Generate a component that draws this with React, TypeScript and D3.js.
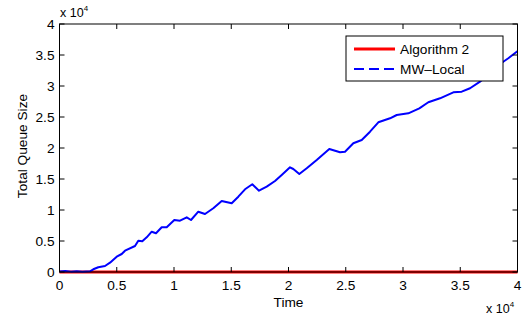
import React from "react";
import * as d3 from "d3";

const xTicks = [0, 0.5, 1, 1.5, 2, 2.5, 3, 3.5, 4];
const yTicks = [0, 0.5, 1, 1.5, 2, 2.5, 3, 3.5, 4];
const seriesNames = ["Algorithm 2", "MW\u2013Local"];

const algTime = [0, 40000];
const algQueue = [0, 0];

const mwTime = [0, 500, 1000, 1500, 2000, 2664, 2952, 3389, 3974, 4411, 4996, 5433, 5721, 6594, 6882, 7232, 7616, 8053, 8428, 8926, 9363, 10027, 10524, 11110, 11485, 12123, 12708, 13433, 14167, 14455, 15040, 15617, 16202, 16839, 17424, 18097, 18822, 19407, 20132, 20420, 20944, 21591, 22464, 23565, 24499, 24936, 25661, 26395, 27120, 27845, 28867, 29452, 30465, 31426, 32212, 33234, 34396, 35129, 35854, 36727, 37601, 38474, 39198, 39932, 40000];
const mwQueue = [100, 150, 60, 120, 50, 113, 435, 758, 968, 1500, 2468, 2903, 3436, 4194, 5049, 4952, 5597, 6500, 6242, 7210, 7210, 8388, 8275, 8823, 8388, 9726, 9355, 10275, 11452, 11340, 11081, 12146, 13339, 14146, 13114, 13759, 14678, 15646, 16888, 16614, 15807, 16727, 18066, 19840, 19308, 19404, 20759, 21292, 22631, 24147, 24792, 25324, 25598, 26404, 27373, 28018, 28986, 29083, 29631, 30696, 32050, 33550, 34470, 35534, 35600];

const W = 531, H = 322;
const L = 59.5, R = 517.5, T = 24, B = 272;

export default function App() {
  const x = d3.scaleLinear().domain([0, 40000]).range([L, R]);
  const y = d3.scaleLinear().domain([0, 40000]).range([B, T]);
  const algPath = d3.line<number>().x((_, i) => x(algTime[i])).y((d) => y(d))(algQueue) || "";
  const mwPath = d3.line<number>().x((_, i) => x(mwTime[i])).y((d) => y(d))(mwQueue) || "";
  const font = "'Liberation Sans', Arial, sans-serif";
  const fs = 13.7;
  const tk = 5;
  return (
    <div style={{ position: "absolute", left: 0, top: 0 }}>
      <svg width={W} height={H} style={{ display: "block", background: "#fff" }} fontFamily={font}>
        <rect x={0} y={0} width={W} height={H} fill="#fff" />
        <path d={algPath} stroke="#ff0000" strokeWidth={3} fill="none" />
        <path d={mwPath} stroke="#0000ff" strokeWidth={2} fill="none" strokeLinejoin="round" />
        <rect x={L} y={T} width={R - L} height={B - T} fill="none" stroke="#000" strokeWidth={1} />
        {xTicks.map((t) => (
          <g key={"x" + t}>
            <line x1={x(t * 1e4)} x2={x(t * 1e4)} y1={B} y2={B - tk} stroke="#000" />
            <line x1={x(t * 1e4)} x2={x(t * 1e4)} y1={T} y2={T + tk} stroke="#000" />
            <text x={x(t * 1e4)} y={290} fontSize={fs} textAnchor="middle" fill="#000">{t}</text>
          </g>
        ))}
        {yTicks.map((t) => (
          <g key={"y" + t}>
            <line x1={L} x2={L + tk} y1={y(t * 1e4)} y2={y(t * 1e4)} stroke="#000" />
            <line x1={R} x2={R - tk} y1={y(t * 1e4)} y2={y(t * 1e4)} stroke="#000" />
            <text x={54.5} y={y(t * 1e4) + 5} fontSize={fs} textAnchor="end" fill="#000">{t}</text>
          </g>
        ))}
        <text x={60} y={17} fontSize={12.5} fill="#000">x 10<tspan fontSize={8} dy={-6}>4</tspan></text>
        <text x={486} y={313} fontSize={12.5} fill="#000">x 10<tspan fontSize={8} dy={-6}>4</tspan></text>
        <text x={(L + R) / 2} y={306.5} fontSize={fs} textAnchor="middle" fill="#000">Time</text>
        <text transform={`translate(27,146) rotate(-90)`} fontSize={fs} textAnchor="middle" fill="#000">Total Queue Size</text>
        <rect x={346} y={36} width={157} height={45} fill="#fff" stroke="#000" strokeWidth={1} />
        <line x1={354} x2={395} y1={49} y2={49} stroke="#ff0000" strokeWidth={3} />
        <line x1={354} x2={395} y1={69} y2={69} stroke="#0000ff" strokeWidth={1.8} strokeDasharray="10,5" />
        <text x={400} y={54} fontSize={fs} fill="#000">{seriesNames[0]}</text>
        <text x={400} y={74} fontSize={fs} fill="#000">{seriesNames[1]}</text>
      </svg>
    </div>
  );
}
